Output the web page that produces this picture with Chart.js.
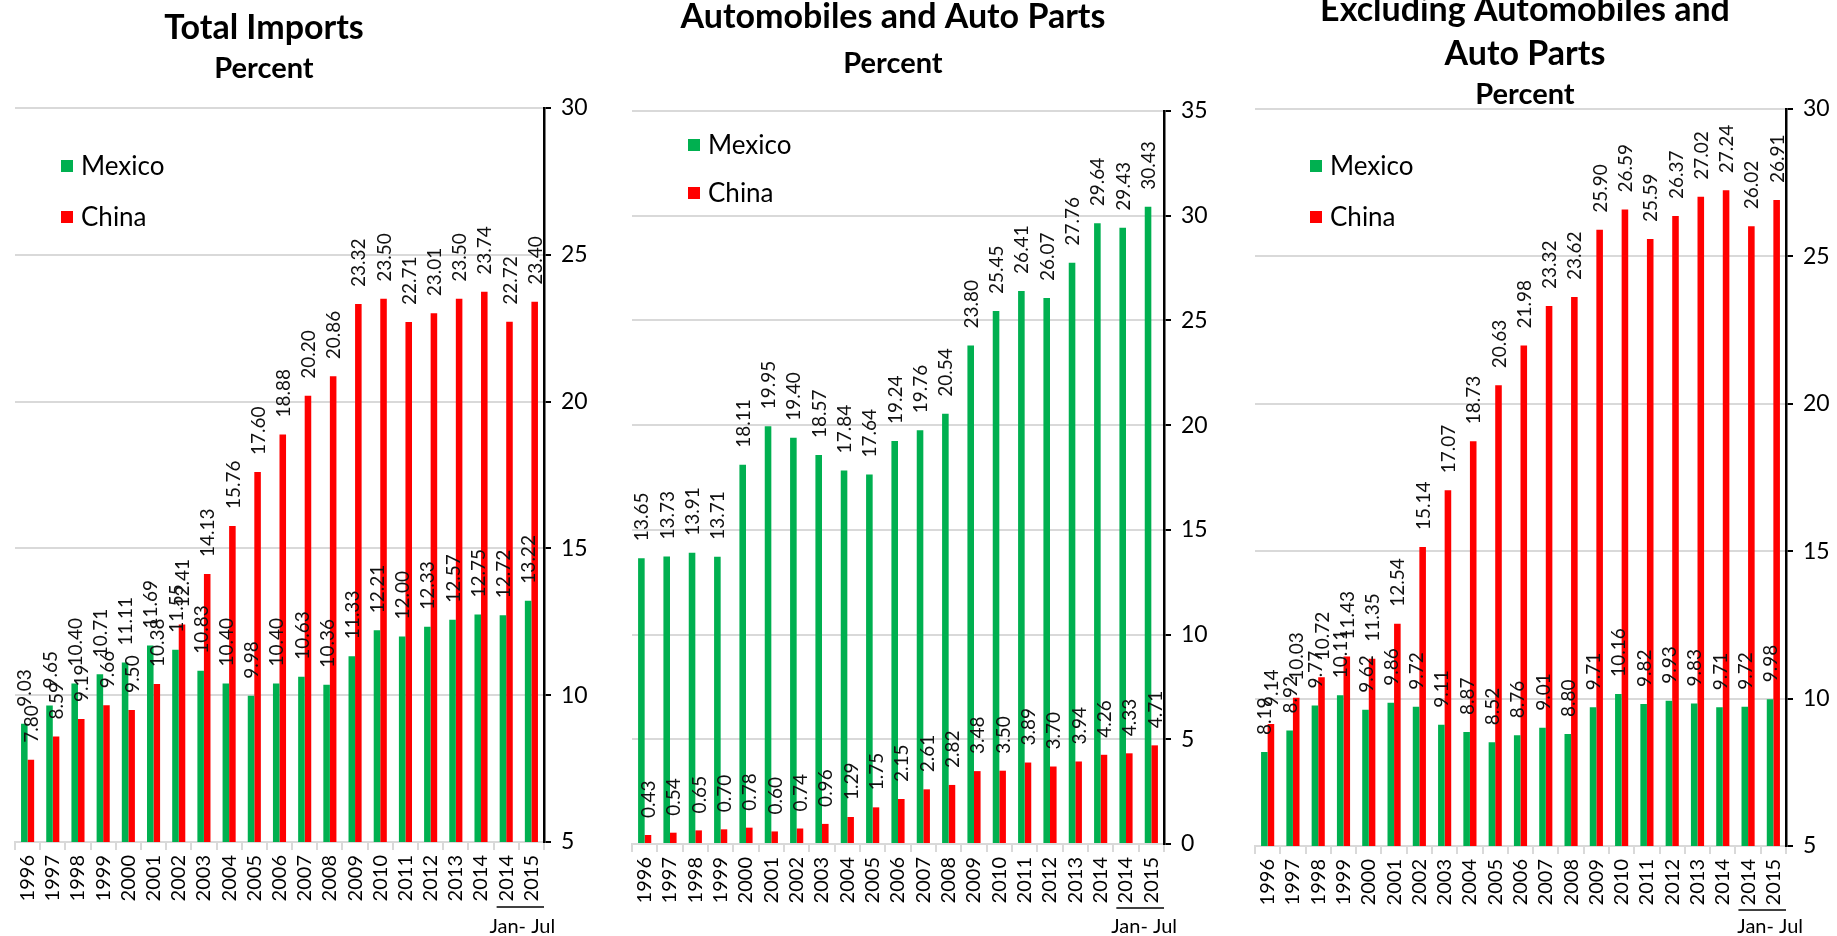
<!DOCTYPE html>
<html>
<head>
<meta charset="utf-8">
<title>Import shares: Mexico and China</title>
<script src="https://cdn.jsdelivr.net/npm/chart.js@4.4.1/dist/chart.umd.min.js"></script>
<style>
    html, body { margin: 0; padding: 0; background: #fff; }
    body { width: 1837px; height: 936px; position: relative; overflow: hidden; }
    .panel { position: absolute; top: 0; }
</style>
</head>
<body>
<canvas id="totalChart" class="panel" width="620" height="936" style="left:0px"></canvas>
<canvas id="autoChart" class="panel" width="640" height="936" style="left:600px"></canvas>
<canvas id="exAutoChart" class="panel" width="600" height="936" style="left:1237px"></canvas>
<script>
// Years on the x axis (the last two are the Jan-Jul periods)
const years = ['1996', '1997', '1998', '1999', '2000', '2001', '2002', '2003', '2004', '2005',
    '2006', '2007', '2008', '2009', '2010', '2011', '2012', '2013', '2014', '2014', '2015'];
const periodNote = 'Jan- Jul';

// Total imports, percent
const totalMexico = [9.03, 9.65, 10.40, 10.71, 11.11, 11.69, 11.55, 10.83, 10.40, 9.98,
    10.40, 10.63, 10.36, 11.33, 12.21, 12.00, 12.33, 12.57, 12.75, 12.72, 13.22];
const totalChina = [7.80, 8.59, 9.19, 9.66, 9.50, 10.38, 12.41, 14.13, 15.76, 17.60,
    18.88, 20.20, 20.86, 23.32, 23.50, 22.71, 23.01, 23.50, 23.74, 22.72, 23.40];

// Automobiles and auto parts, percent
const autoMexico = [13.65, 13.73, 13.91, 13.71, 18.11, 19.95, 19.40, 18.57, 17.84, 17.64,
    19.24, 19.76, 20.54, 23.80, 25.45, 26.41, 26.07, 27.76, 29.64, 29.43, 30.43];
const autoChina = [0.43, 0.54, 0.65, 0.70, 0.78, 0.60, 0.74, 0.96, 1.29, 1.75,
    2.15, 2.61, 2.82, 3.48, 3.50, 3.89, 3.70, 3.94, 4.26, 4.33, 4.71];

// Excluding automobiles and auto parts, percent
const exAutoMexico = [8.19, 8.92, 9.77, 10.11, 9.62, 9.86, 9.72, 9.11, 8.87, 8.52,
    8.76, 9.01, 8.80, 9.71, 10.16, 9.82, 9.93, 9.83, 9.71, 9.72, 9.98];
const exAutoChina = [9.14, 10.03, 10.72, 11.43, 11.35, 12.54, 15.14, 17.07, 18.73, 20.63,
    21.98, 23.32, 23.62, 25.90, 26.59, 25.59, 26.37, 27.02, 27.24, 26.02, 26.91];

// Y axis ticks for each panel
const totalTicks = [5, 10, 15, 20, 25, 30];
const autoTicks = [0, 5, 10, 15, 20, 25, 30, 35];
const exAutoTicks = [5, 10, 15, 20, 25, 30];

const GREEN = '#00b050';
const RED = '#ff0000';
const GRID = '#d9d9d9';
const FONT = 'Lato, Carlito, "Open Sans", sans-serif';

/**
 * Titulo do painel, linha a linha
 */
const panelTitle = {
    id: 'panelTitle',
    afterDraw(chart, args, opts) {
        const ctx = chart.ctx;
        ctx.save();
        ctx.fillStyle = '#000';
        ctx.textAlign = 'center';
        ctx.textBaseline = 'alphabetic';
        opts.lines.forEach(line => {
            ctx.font = 'bold ' + line.size + 'px ' + FONT;
            ctx.fillText(line.text, opts.x, line.y);
        });
        ctx.restore();
    }
};

/**
 * Legenda dentro da area do grafico (quadrado + nome)
 */
const insideLegend = {
    id: 'insideLegend',
    afterDraw(chart, args, opts) {
        const ctx = chart.ctx;
        const area = chart.chartArea;
        ctx.save();
        ctx.font = opts.size + 'px ' + FONT;
        ctx.textBaseline = 'middle';
        chart.data.datasets.forEach((ds, i) => {
            const cy = area.top + opts.y + i * opts.gap;
            const x = area.left + opts.x;
            ctx.fillStyle = ds.backgroundColor;
            ctx.fillRect(x, cy - opts.box / 2, opts.box, opts.box);
            ctx.fillStyle = '#000';
            ctx.fillText(ds.label, x + opts.box + 8, cy + 1);
        });
        ctx.restore();
    }
};

/**
 * Valores em cima de cada barra, girados 90 graus
 */
const barValues = {
    id: 'barValues',
    afterDatasetsDraw(chart, args, opts) {
        const ctx = chart.ctx;
        ctx.save();
        ctx.font = opts.size + 'px ' + FONT;
        ctx.fillStyle = '#111';
        ctx.textAlign = 'left';
        ctx.textBaseline = 'middle';
        chart.data.datasets.forEach((ds, i) => {
            chart.getDatasetMeta(i).data.forEach((bar, j) => {
                ctx.save();
                ctx.translate(bar.x + 1, bar.y - opts.offset);
                ctx.rotate(-Math.PI / 2);
                ctx.fillText(ds.data[j].toFixed(2), 0, 0);
                ctx.restore();
            });
        });
        ctx.restore();
    }
};

/**
 * Marca "Jan- Jul" abaixo das duas ultimas categorias
 */
const periodMark = {
    id: 'periodMark',
    afterDraw(chart, args, opts) {
        const ctx = chart.ctx;
        const x = chart.scales.x;
        const n = years.length;
        const half = (x.getPixelForValue(1) - x.getPixelForValue(0)) / 2;
        const x0 = x.getPixelForValue(n - 2) - half + 3;
        const x1 = x.getPixelForValue(n - 1) + half;
        ctx.save();
        ctx.strokeStyle = '#000';
        ctx.lineWidth = 1.5;
        ctx.beginPath();
        ctx.moveTo(x0, opts.lineY);
        ctx.lineTo(x1, opts.lineY);
        ctx.stroke();
        ctx.fillStyle = '#000';
        ctx.font = opts.size + 'px ' + FONT;
        ctx.textAlign = 'center';
        ctx.textBaseline = 'alphabetic';
        ctx.fillText(periodNote, (x0 + x1) / 2 + opts.dx, opts.textY);
        ctx.restore();
    }
};

/**
 * Monta um painel de barras Mexico x China
 */
function buildPanel(canvasId, mexico, china, ticks, cfg) {
    const ctx = document.getElementById(canvasId).getContext('2d');
    return new Chart(ctx, {
        type: 'bar',
        data: {
            labels: years,
            datasets: [
                { label: 'Mexico', data: mexico, backgroundColor: GREEN, categoryPercentage: 0.52, barPercentage: 1.0 },
                { label: 'China', data: china, backgroundColor: RED, categoryPercentage: 0.52, barPercentage: 1.0 }
            ]
        },
        options: {
            responsive: false,
            animation: false,
            events: [],
            layout: { padding: cfg.padding },
            plugins: {
                legend: { display: false },
                tooltip: { enabled: false },
                panelTitle: cfg.title,
                insideLegend: cfg.legend,
                barValues: { size: 19, offset: 17 },
                periodMark: cfg.period
            },
            scales: {
                x: {
                    offset: true,
                    grid: { offset: true, drawOnChartArea: false, drawTicks: true, tickLength: 8, color: GRID, lineWidth: 2 },
                    border: { color: GRID, width: 2 },
                    ticks: { autoSkip: false, maxRotation: 90, minRotation: 90, padding: 5, color: '#000', font: { family: FONT, size: 20 } },
                    afterFit: s => { s.height = cfg.xHeight; }
                },
                y: {
                    position: 'right',
                    min: ticks[0],
                    max: ticks[ticks.length - 1],
                    ticks: { stepSize: ticks[1] - ticks[0], padding: 10, color: '#000', font: { family: FONT, size: 23 } },
                    grid: { color: GRID, lineWidth: 2, tickColor: '#000', tickLength: 7, tickWidth: 2 },
                    border: { color: '#000', width: 2.5 },
                    afterFit: s => { s.width = 50; }
                }
            }
        },
        plugins: [panelTitle, insideLegend, barValues, periodMark]
    });
}

buildPanel('totalChart', totalMexico, totalChina, totalTicks, {
    padding: { left: 15, right: 26, top: 108, bottom: 0 },
    xHeight: 94,
    title: { x: 264, lines: [{ text: 'Total Imports', y: 39, size: 34 }, { text: 'Percent', y: 78, size: 29 }] },
    legend: { x: 46, y: 58, gap: 51, box: 12, size: 26 },
    period: { lineY: 907, textY: 933, size: 20, dx: 2 }
});

buildPanel('autoChart', autoMexico, autoChina, autoTicks, {
    padding: { left: 32, right: 26, top: 111, bottom: 0 },
    xHeight: 92,
    title: { x: 293, lines: [{ text: 'Automobiles and Auto Parts', y: 28, size: 34 }, { text: 'Percent', y: 73, size: 29 }] },
    legend: { x: 56, y: 34, gap: 48, box: 12, size: 26 },
    period: { lineY: 908, textY: 933, size: 20, dx: 4 }
});

buildPanel('exAutoChart', exAutoMexico, exAutoChina, exAutoTicks, {
    padding: { left: 18, right: 1, top: 109, bottom: 0 },
    xHeight: 90,
    title: { x: 288, lines: [{ text: 'Excluding Automobiles and', y: 21, size: 34 }, { text: 'Auto Parts', y: 65, size: 34 }, { text: 'Percent', y: 104, size: 29 }] },
    legend: { x: 55, y: 57, gap: 51, box: 12, size: 26 },
    period: { lineY: 910, textY: 933, size: 20, dx: 8 }
});
</script>
</body>
</html>
